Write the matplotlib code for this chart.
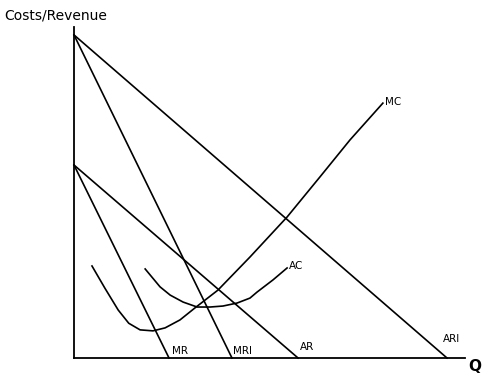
import matplotlib
matplotlib.use("Agg")
import matplotlib.pyplot as plt

# Demand / revenue lines (Q intercept, P intercept)
ar1 = ([0, 95.4], [97.6, 0])
mr1 = ([0, 40.4], [97.6, 0])
ar = ([0, 57.3], [58.3, 0])
mr = ([0, 24.3], [58.3, 0])

# Marginal cost curve
mc_q = [4.6, 7.9, 11.3, 14.0, 16.9, 20.2, 23.3, 27.1, 30.9, 36.8, 45.0, 54.5, 62.9, 70.6, 79.0]
mc_p = [27.8, 21.1, 14.5, 10.5, 8.5, 8.2, 9.1, 11.5, 15.1, 20.5, 30.5, 42.6, 54.7, 65.9, 77.0]

# Average cost curve
ac_q = [18.2, 22.0, 24.6, 27.9, 31.5, 34.8, 38.1, 41.7, 45.0, 46.8, 50.9, 54.5]
ac_p = [26.9, 21.5, 19.0, 16.9, 15.4, 15.4, 15.7, 16.6, 18.1, 19.9, 23.6, 27.2]

fig = plt.figure(figsize=(5, 3.79), dpi=100)
ax = fig.add_axes([0.148, 0.0554, 0.782, 0.8734])
ax.set_xlim(0, 100)
ax.set_ylim(0, 100)
for s in ["top", "right"]:
    ax.spines[s].set_visible(False)
for s in ["left", "bottom"]:
    ax.spines[s].set_linewidth(1.3)
ax.set_xticks([])
ax.set_yticks([])

lw = 1.2
for (q, p) in (ar1, mr1, ar, mr):
    ax.plot(q, p, color="black", lw=lw, clip_on=False)
ax.plot(mc_q, mc_p, color="black", lw=lw, clip_on=False, solid_joinstyle="round")
ax.plot(ac_q, ac_p, color="black", lw=lw, clip_on=False, solid_joinstyle="round")

fs = 7.5
ax.annotate("MR", (mr[0][1], 0), xytext=(2, 1.5), textcoords="offset points",
            fontsize=fs, ha="left", va="bottom")
ax.annotate("MRI", (mr1[0][1], 0), xytext=(1, 1.5), textcoords="offset points",
            fontsize=fs, ha="left", va="bottom")
ax.annotate("AR", (ar[0][1], 0), xytext=(1.5, 4.5), textcoords="offset points",
            fontsize=fs, ha="left", va="bottom")
ax.annotate("ARI", (ar1[0][1], 0), xytext=(-3, 10), textcoords="offset points",
            fontsize=fs, ha="left", va="bottom")
ax.annotate("AC", (ac_q[-1], ac_p[-1]), xytext=(1, 1.5), textcoords="offset points",
            fontsize=fs, ha="left", va="center")
ax.annotate("MC", (mc_q[-1], mc_p[-1]), xytext=(1.5, 0.5), textcoords="offset points",
            fontsize=fs, ha="left", va="center")

fig.text(0.936, 0.034, "Q", fontsize=11, fontweight="bold", ha="left", va="center")
fig.text(0.008, 0.96, "Costs/Revenue", fontsize=10, ha="left", va="center")

fig.savefig("out.png", dpi=100)
